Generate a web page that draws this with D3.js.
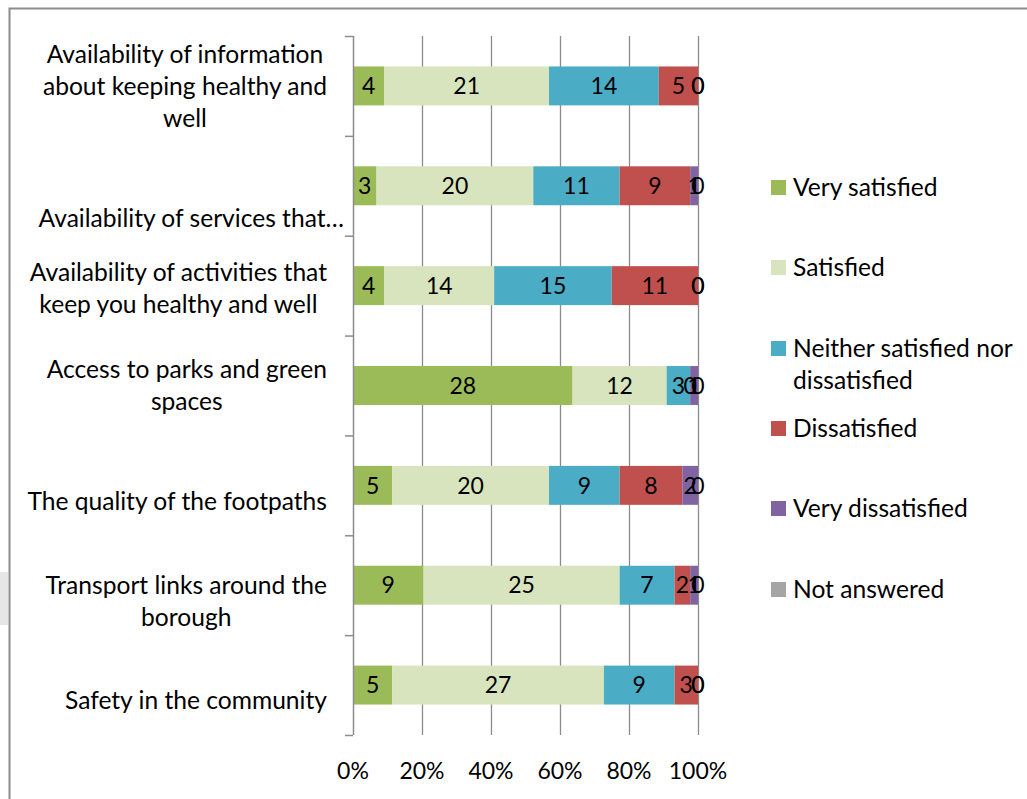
<!DOCTYPE html>
<html>
<head>
<meta charset="utf-8">
<script src="https://cdn.jsdelivr.net/npm/d3@7/dist/d3.min.js"></script>
<style>
  html, body { margin: 0; padding: 0; background: #fff; }
  svg { display: block; }
  text { font-family: Lato, "Open Sans", sans-serif; fill: #000; }
</style>
</head>
<body>
<svg id="chart" width="1027" height="799"></svg>
<script>
// Survey topics, listed top to bottom
const categories = [
  "Availability of information about keeping healthy and well",
  "Availability of services that…",
  "Availability of activities that keep you healthy and well",
  "Access to parks and green spaces",
  "The quality of the footpaths",
  "Transport links around the borough",
  "Safety in the community"
];

// Wrapped lines for each topic label
const categoryLines = [
  ["Availability of information", "about keeping healthy and", "well"],
  ["Availability of services that…"],
  ["Availability of activities that", "keep you healthy and well"],
  ["Access to parks and green", "spaces"],
  ["The quality of the footpaths"],
  ["Transport links around the", "borough"],
  ["Safety in the community"]
];

const seriesNames = [
  "Very satisfied",
  "Satisfied",
  "Neither satisfied nor dissatisfied",
  "Dissatisfied",
  "Very dissatisfied",
  "Not answered"
];

// Response counts per topic, one array per response option
const verySatisfied    = [4, 3, 4, 28, 5, 9, 5];
const satisfied        = [21, 20, 14, 12, 20, 25, 27];
const neither          = [14, 11, 15, 3, 9, 7, 9];
const dissatisfied     = [5, 9, 11, 0, 8, 2, 3];
const veryDissatisfied = [0, 1, 0, 1, 2, 1, 0];
const notAnswered      = [0, 0, 0, 0, 0, 0, 0];

const xTickLabels = ["0%", "20%", "40%", "60%", "80%", "100%"];

const colors = ["#9BBB59", "#D7E4BD", "#4BACC6", "#C0504D", "#8064A2", "#A5A5A5"];

const seriesValues = [verySatisfied, satisfied, neither, dissatisfied, veryDissatisfied, notAnswered];

// Rows for the stack: one object per topic
const rows = categories.map((c, i) => {
  const r = { category: c };
  seriesNames.forEach((s, j) => { r[s] = seriesValues[j][i]; });
  return r;
});

const svg = d3.select("#chart");
const textSize = 24.6;
const numSize = 23;

// Outer chart frame
svg.append("rect").attr("x", 0).attr("y", 572).attr("width", 8).attr("height", 53).attr("fill", "#e6e6e6");
svg.append("path")
  .attr("d", "M9.5,800 V8.5 H1030")
  .attr("fill", "none").attr("stroke", "#8c8c8c").attr("stroke-width", 2);

const x = d3.scaleLinear().domain([0, 1]).range([353, 698]);
const y = d3.scaleBand().domain(categories).range([36, 735]).paddingInner(0.61).paddingOuter(0.305);
const step = y.step();

const stack = d3.stack().keys(seriesNames).offset(d3.stackOffsetExpand);
const layers = stack(rows);

// Vertical gridlines
const grid = svg.append("g");
grid.selectAll("line").data(xTickLabels.slice(1)).join("line")
  .attr("x1", (d, i) => x((i + 1) / 5) + 0.5).attr("x2", (d, i) => x((i + 1) / 5) + 0.5)
  .attr("y1", 36).attr("y2", 735)
  .attr("stroke", "#8c8c8c").attr("stroke-width", 1.3);

// Stacked bars
const barG = svg.append("g");
layers.forEach((layer, j) => {
  barG.append("g").attr("fill", colors[j])
    .selectAll("rect").data(layer).join("rect")
    .attr("x", d => x(d[0]))
    .attr("y", d => y(d.data.category))
    .attr("width", d => Math.max(0, x(d[1]) - x(d[0])))
    .attr("height", y.bandwidth());
});

// Segment value labels (zero values included, as in the source chart)
const labelG = svg.append("g");
layers.forEach((layer, j) => {
  labelG.append("g")
    .selectAll("text").data(layer).join("text")
    .attr("x", d => (x(d[0]) + x(d[1])) / 2)
    .attr("y", d => y(d.data.category) + y.bandwidth() / 2)
    .attr("dy", "0.36em")
    .attr("text-anchor", "middle")
    .attr("font-size", numSize)
    .text(d => d.data[seriesNames[j]]);
});

// Category axis line and ticks at band boundaries
const axisG = svg.append("g");
axisG.append("line").attr("x1", 353.5).attr("x2", 353.5).attr("y1", 36).attr("y2", 735)
  .attr("stroke", "#8c8c8c").attr("stroke-width", 1.5);
const bounds = categories.map(c => y(c) - step * y.paddingInner() / 2).concat([735]);
axisG.selectAll("line.tick").data(bounds).join("line").attr("class", "tick")
  .attr("x1", 345).attr("x2", 353).attr("y1", d => d + 0.5).attr("y2", d => d + 0.5)
  .attr("stroke", "#8c8c8c").attr("stroke-width", 1.5);

// Topic labels: lines centred within a right-aligned block
const labelShift = [0, 32, 3, 0, 16, 16, 15];
const labelRight = [327, 344, 327, 327, 327, 327, 327];
const catG = svg.append("g");
categories.forEach((c, i) => {
  const lines = categoryLines[i];
  const g = catG.append("g");
  const cy = y(c) + y.bandwidth() / 2 + labelShift[i];
  const lh = 32;
  const texts = lines.map((ln, k) => g.append("text")
    .attr("font-size", textSize)
    .attr("y", cy + (k - (lines.length - 1) / 2) * lh)
    .attr("dy", "0.36em")
    .attr("text-anchor", "middle")
    .text(ln));
  const maxW = d3.max(texts, t => t.node().getComputedTextLength());
  texts.forEach(t => t.attr("x", labelRight[i] - maxW / 2));
});

// Percentage axis labels
svg.append("g").selectAll("text").data(xTickLabels).join("text")
  .attr("x", (d, i) => x(i / 5))
  .attr("y", 771)
  .attr("dy", "0.36em")
  .attr("text-anchor", "middle")
  .attr("font-size", numSize)
  .text(d => d);

// Legend
const legendLines = [["Very satisfied"], ["Satisfied"], ["Neither satisfied nor", "dissatisfied"], ["Dissatisfied"], ["Very dissatisfied"], ["Not answered"]];
const legendY = [187, 267, 348, 428, 508, 589];
const legend = svg.append("g");
seriesNames.forEach((s, j) => {
  const g = legend.append("g");
  g.append("rect").attr("x", 771).attr("y", legendY[j] - 7).attr("width", 15).attr("height", 15).attr("fill", colors[j]);
  legendLines[j].forEach((ln, k) => {
    g.append("text").attr("x", 793).attr("y", legendY[j] + k * 32).attr("dy", "0.36em")
      .attr("font-size", textSize).text(ln);
  });
});
</script>
</body>
</html>
